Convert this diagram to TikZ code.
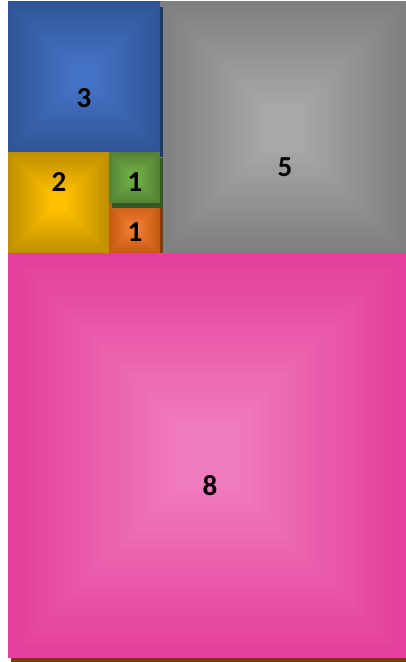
\documentclass[tikz,border=0pt]{standalone}
\usepackage{fontspec}
\setmainfont{Carlito}[BoldFont={Carlito Bold}]
\definecolor{blueO}{HTML}{2F5597}\definecolor{blueI}{HTML}{4472C4}\definecolor{blueS}{HTML}{1F3864}
\definecolor{grayO}{HTML}{7F7F7F}\definecolor{grayI}{HTML}{A8A8A8}
\definecolor{yelO}{HTML}{BF9000}\definecolor{yelI}{HTML}{FFC000}
\definecolor{grnO}{HTML}{548235}\definecolor{grnI}{HTML}{70AD47}\definecolor{grnS}{HTML}{385723}
\definecolor{orgO}{HTML}{C55A11}\definecolor{orgI}{HTML}{ED7D31}\definecolor{orgS}{HTML}{843C0C}
\definecolor{pnkO}{HTML}{E43F9A}\definecolor{pnkI}{HTML}{F07BBE}\definecolor{pnkS}{HTML}{7B3A0E}
\newcommand\fibsq[6]{%
  \foreach \i in {0,...,24}{%
    \pgfmathsetmacro\d{\i*0.42*min(#3-#1,#4-#2)/24}%
    \pgfmathtruncatemacro\p{100*\i/24}%
    \fill[#6!\p!#5] ({#1+\d},{#2+\d}) rectangle ({#3-\d},{#4-\d});
  }}
\tikzset{num/.style={font=\fontsize{29}{34}\selectfont\bfseries, text=black, inner sep=0pt}}
\begin{document}
\begin{tikzpicture}[x=1pt,y=-1pt]
\useasboundingbox[fill=white] (0,0) rectangle (406,662);
% pink 8
\fill[pnkS] (11,263) rectangle (406,662);
\fibsq{8}{253}{406}{658}{pnkO}{pnkI}
% gray 5
\fibsq{160}{1}{406}{253}{grayO}{grayI}
% blue 3
\fill[blueS] (11,7) rectangle (163,157);
\fibsq{8}{1}{160}{152}{blueO}{blueI}
% yellow 2
\fibsq{8}{152}{109}{253}{yelO}{yelI}
% orange 1
\fill[orgS] (112,208) rectangle (163,253);
\fibsq{109}{203}{160}{253}{orgO}{orgI}
% green 1
\fill[grnS] (112,158) rectangle (163,208);
\fibsq{109}{152}{160}{203}{grnO}{grnI}
% labels
\node[num] (l3) at (84,98) {3};
\node[num] (l5) at (285,167) {5};
\node[num] (l2) at (59,182) {2};
\node[num] (l1a) at (135,182) {1};
\node[num] (l1b) at (135,232) {1};
\node[num] (l8) at (210,486) {8};
\end{tikzpicture}
\end{document}
